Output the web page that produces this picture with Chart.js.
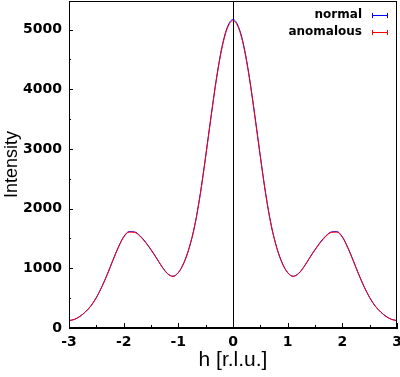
<!DOCTYPE html>
<html>
<head>
<meta charset="utf-8">
<script src="https://cdn.jsdelivr.net/npm/chart.js@4.4.0/dist/chart.umd.min.js"></script>
<style>
  html, body { margin: 0; padding: 0; background: #fff; }
</style>
</head>
<body>
<canvas id="peaks" width="400" height="377"></canvas>
<script>
// h positions (r.l.u.)
const hValues = [
  -3.0, -2.9, -2.8, -2.7, -2.6, -2.5, -2.4, -2.3, -2.2, -2.1,
  -2.0, -1.9, -1.8, -1.7, -1.6, -1.5, -1.4, -1.3, -1.2, -1.1,
  -1.0, -0.9, -0.8, -0.7, -0.6, -0.5, -0.4, -0.3, -0.2, -0.1,
   0.0,
   0.1,  0.2,  0.3,  0.4,  0.5,  0.6,  0.7,  0.8,  0.9,  1.0,
   1.1,  1.2,  1.3,  1.4,  1.5,  1.6,  1.7,  1.8,  1.9,  2.0,
   2.1,  2.2,  2.3,  2.4,  2.5,  2.6,  2.7,  2.8,  2.9,  3.0
];

const normalIntensity = [
  125, 145, 195, 270, 370, 510, 690, 900, 1130, 1350,
  1530, 1615, 1610, 1545, 1440, 1315, 1175, 1030, 915, 868,
  930, 1090, 1350, 1720, 2240, 2880, 3560, 4200, 4720, 5050,
  5170,
  5050, 4720, 4200, 3560, 2880, 2240, 1720, 1350, 1090, 930,
  868, 915, 1030, 1175, 1315, 1440, 1545, 1610, 1615, 1530,
  1350, 1130, 900, 690, 510, 370, 270, 195, 145, 125
];

const anomalousIntensity = [
  124, 144, 194, 269, 369, 508, 687, 896, 1125, 1344,
  1522, 1607, 1602, 1538, 1433, 1309, 1170, 1026, 911, 865,
  926, 1086, 1344, 1712, 2230, 2868, 3545, 4185, 4700, 5030,
  5150,
  5030, 4700, 4185, 3545, 2868, 2230, 1712, 1344, 1086, 926,
  865, 911, 1026, 1170, 1309, 1433, 1538, 1602, 1607, 1522,
  1344, 1125, 896, 687, 508, 369, 269, 194, 144, 124
];

const seriesNames = ['normal', 'anomalous'];
const seriesColors = ['rgb(0, 0, 255)', 'rgb(255, 0, 0)'];
const xTickLabels = ['-3', '-2', '-1', '0', '1', '2', '3'];
const yTickLabels = ['0', '1000', '2000', '3000', '4000', '5000'];

const tickFont = { family: 'DejaVu Sans', size: 14, weight: 'bold' };

function toPoints(ys) {
  return hValues.map((h, i) => ({ x: h, y: ys[i] }));
}

// gnuplot-like frame: box, inward tick marks, zero line and legend
const framePlugin = {
  id: 'frame',
  beforeDatasetsDraw(chart) {
    const { ctx, chartArea: a, scales: { x } } = chart;
    const px = Math.round(x.getPixelForValue(0)) + 0.5;
    ctx.save();
    ctx.strokeStyle = '#000';
    ctx.lineWidth = 1;
    ctx.beginPath();
    ctx.moveTo(px, a.top);
    ctx.lineTo(px, a.bottom);
    ctx.stroke();
    ctx.restore();
  },
  afterDraw(chart) {
    const { ctx, chartArea: a, scales: { x, y } } = chart;
    ctx.save();
    ctx.strokeStyle = '#000';
    ctx.lineWidth = 1;
    ctx.strokeRect(a.left + 0.5, a.top + 0.5, a.right - a.left - 1, a.bottom - a.top - 1);

    ctx.beginPath();
    // x ticks, major on labels, minor half way
    xTickLabels.forEach((lab, i) => {
      const v = Number(lab);
      const p = Math.round(x.getPixelForValue(v)) + 0.5;
      ctx.moveTo(p, a.bottom);
      ctx.lineTo(p, a.bottom - 5);
      if (i < xTickLabels.length - 1) {
        const m = Math.round(x.getPixelForValue(v + 0.5)) + 0.5;
        ctx.moveTo(m, a.bottom);
        ctx.lineTo(m, a.bottom - 3);
      }
    });
    // y ticks
    yTickLabels.forEach((lab) => {
      const v = Number(lab);
      const p = Math.round(y.getPixelForValue(v)) + 0.5;
      ctx.moveTo(a.left, p);
      ctx.lineTo(a.left + 4, p);
      const m = Math.round(y.getPixelForValue(v + 500)) + 0.5;
      if (m > a.top) {
        ctx.moveTo(a.left, m);
        ctx.lineTo(a.left + 2, m);
      }
    });
    ctx.stroke();

    // legend, text first then sample with error-bar caps
    ctx.font = 'bold 12px "DejaVu Sans"';
    ctx.textAlign = 'right';
    ctx.textBaseline = 'middle';
    seriesNames.forEach((name, i) => {
      const ly = 15 + i * 17;
      ctx.fillStyle = '#000';
      ctx.fillText(name, 362, ly);
      ctx.strokeStyle = seriesColors[i];
      ctx.beginPath();
      ctx.moveTo(372, ly + 0.5);
      ctx.lineTo(388, ly + 0.5);
      ctx.moveTo(372.5, ly - 2);
      ctx.lineTo(372.5, ly + 3);
      ctx.moveTo(387.5, ly - 2);
      ctx.lineTo(387.5, ly + 3);
      ctx.stroke();
    });
    ctx.restore();
  }
};

const ctx = document.getElementById('peaks').getContext('2d');
const chart = new Chart(ctx, {
  type: 'line',
  data: {
    datasets: [
      {
        label: seriesNames[0],
        data: toPoints(normalIntensity),
        borderColor: seriesColors[0],
        borderWidth: 1,
        pointRadius: 0,
        cubicInterpolationMode: 'monotone',
        fill: false,
        order: 1
      },
      {
        label: seriesNames[1],
        data: toPoints(anomalousIntensity),
        borderColor: seriesColors[1],
        borderWidth: 1,
        pointRadius: 0,
        cubicInterpolationMode: 'monotone',
        fill: false,
        order: 0
      }
    ]
  },
  options: {
    responsive: false,
    animation: false,
    devicePixelRatio: 1,
    layout: { padding: { top: 1, right: 3, left: 0, bottom: 0 } },
    plugins: {
      legend: { display: false },
      tooltip: { enabled: false }
    },
    scales: {
      x: {
        type: 'linear',
        min: -3,
        max: 3,
        grid: { display: true, drawOnChartArea: false, drawTicks: false },
        border: { display: true, color: '#000', width: 1 },
        ticks: {
          maxRotation: 0,
          autoSkip: false,
          padding: 6,
          color: '#000',
          font: tickFont,
          callback: (v, i) => xTickLabels[i]
        },
        afterBuildTicks(scale) {
          scale.ticks = xTickLabels.map((l) => ({ value: Number(l) }));
        },
        title: {
          display: true,
          text: 'h [r.l.u.]',
          color: '#000',
          font: { family: 'Liberation Sans', size: 21 },
          padding: { top: 0, bottom: 4 }
        },
        afterFit(scale) {
          scale.height = 49;
          scale.paddingLeft = 0;
          scale.paddingRight = 0;
        }
      },
      y: {
        type: 'linear',
        min: 0,
        max: 5480,
        grid: { display: true, drawOnChartArea: false, drawTicks: false },
        border: { display: true, color: '#000', width: 1 },
        ticks: {
          autoSkip: false,
          padding: 7,
          color: '#000',
          font: tickFont,
          callback: (v, i) => yTickLabels[i]
        },
        afterBuildTicks(scale) {
          scale.ticks = yTickLabels.map((l) => ({ value: Number(l) }));
        },
        title: {
          display: true,
          text: 'Intensity',
          color: '#000',
          font: { family: 'Liberation Sans', size: 18 },
          padding: { top: 1, bottom: 0 }
        },
        afterFit(scale) {
          scale.width = 69;
          scale.paddingTop = 0;
          scale.paddingBottom = 0;
        }
      }
    }
  },
  plugins: [framePlugin]
});
</script>
</body>
</html>
